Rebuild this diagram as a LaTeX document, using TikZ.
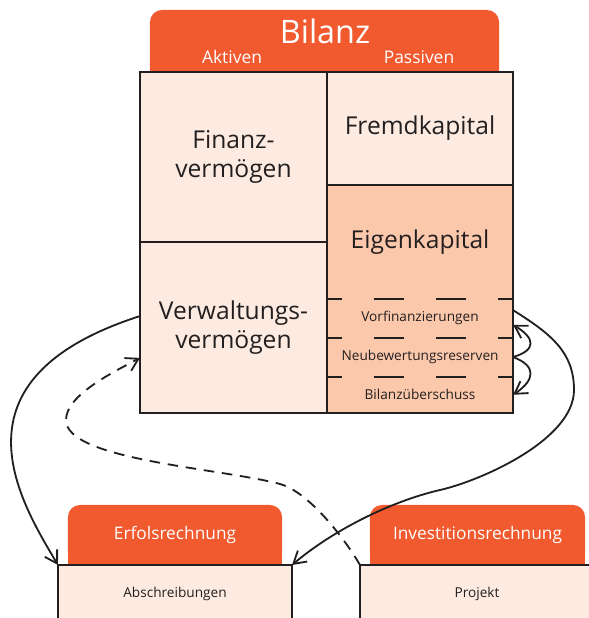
\documentclass[tikz,border=0pt]{standalone}
\usepackage{fontspec}
\setmainfont{Open Sans}
\usetikzlibrary{arrows.meta, positioning, backgrounds}
\definecolor{bilorange}{HTML}{F15A2F}
\definecolor{bilpeach}{HTML}{FDEBE1}
\definecolor{bilsalmon}{HTML}{FCC8AB}
\definecolor{bilink}{HTML}{231F20}

\begin{document}
\begin{tikzpicture}[
    x=0.025cm, y=-0.025cm,
    cell/.style={rectangle, draw=bilink, line width=1.4pt, fill=bilpeach, outer sep=0pt, inner sep=0pt, align=center, text=bilink},
    sub/.style={rectangle, fill=bilsalmon, outer sep=0pt, inner sep=0pt, minimum width=4.65cm, align=center, text=bilink},
    hdr/.style={rectangle, fill=bilorange, rounded corners=0.3cm, inner sep=0pt, text=white},
    big/.style={font=\fontsize{17.5}{21}\selectfont},
    small/.style={font=\fontsize{9.7}{12}\selectfont},
    sep/.style={line width=1.4pt, draw=bilink, dash pattern=on 21.3pt off 22.8pt, dash phase=10.65pt},
    arr/.style={line width=1.3pt, draw=bilink, -{Straight Barb[length=3mm, width=3.6mm]}},
    darr/.style={arr, dash pattern=on 7.5pt off 5.5pt}
]
\useasboundingbox (0,0) rectangle (589,618);

% Bilanz
\node[hdr, minimum width=8.725cm, minimum height=2cm] (bilanzhdr) at (324.5,50) {};
\node[cell, big, minimum width=4.675cm, minimum height=4.25cm] (finanz) at (233.5,157) {Finanz-\\vermögen};
\node[cell, big, minimum width=4.675cm, minimum height=4.275cm, below=0pt of finanz] (verwaltung) {Verwaltungs-\\vermögen};
\node[cell, big, minimum width=4.65cm, minimum height=2.825cm, anchor=north west] (fremd) at (finanz.north east) {Fremdkapital};
\node[sub, big, minimum height=2.85cm, below=0pt of fremd] (eigen) {Eigenkapital};
\node[sub, small, minimum height=0.9625cm, below=0pt of eigen] (vorfin) {Vorfinanzierungen};
\node[sub, small, minimum height=0.975cm, below=0pt of vorfin] (neubew) {Neubewertungsreserven};
\node[sub, small, minimum height=0.9125cm, below=0pt of neubew] (bilueb) {Bilanzüberschuss};
\draw[line width=1.4pt, draw=bilink] (eigen.north west) rectangle (bilueb.south east);
\draw[sep] (vorfin.north west) -- (vorfin.north east);
\draw[sep] (neubew.north west) -- (neubew.north east);
\draw[sep] (bilueb.north west) -- (bilueb.north east);

\node[anchor=base, text=white, font=\fontsize{23}{27}\selectfont] (bilanz) at (325,43) {Bilanz};
\node[anchor=base, text=white, font=\fontsize{12.4}{15}\selectfont] (aktiven) at (232,63) {Aktiven};
\node[anchor=base, text=white, font=\fontsize{12.4}{15}\selectfont] (passiven) at (419,63) {Passiven};

% Rechnungen
\node[hdr, minimum width=5.35cm, minimum height=1.5cm, font=\fontsize{12.3}{15}\selectfont] (erfhdr) at (175,535) {Erfolsrechnung};
\node[hdr, minimum width=5.375cm, minimum height=1.5cm, font=\fontsize{12.3}{15}\selectfont] (invhdr) at (477.5,535) {Investitionsrechnung};
\begin{scope}[on background layer]
\fill[bilorange] (erfhdr.south west) rectangle ([yshift=0.4cm]erfhdr.south east);
\fill[bilorange] (invhdr.south west) rectangle ([yshift=0.4cm]invhdr.south east);
\end{scope}
\node[cell, small, minimum width=5.85cm, minimum height=1.45cm] (erfbox) at (175,594) {Abschreibungen};
\node[cell, small, minimum width=5.85cm, minimum height=1.45cm] (invbox) at (477,594) {Projekt};

% Arrows
\draw[arr] (verwaltung.173) .. controls (-56,379) and (20,501) .. (erfbox.north west);
\draw[arr] (vorfin.5) .. controls (551,334) and (574,352) .. (574,390)
    .. controls (574,440) and (480,481) .. (440,490)
    .. controls (390,501.5) and (332,531) .. (erfbox.north east);
\draw[darr] (invbox.north west) .. controls (345,539) and (309,492) .. (280,484)
    .. controls (220,468) and (66,460) .. (66,420)
    .. controls (66,395) and (113.6,372) .. (verwaltung.198);
\draw[arr] (neubew.east) .. controls (537,350) and (535,338) .. (vorfin.-4);
\draw[arr] (neubew.east) .. controls (537,366) and (535,380) .. (bilueb.east);

\end{tikzpicture}
\end{document}
